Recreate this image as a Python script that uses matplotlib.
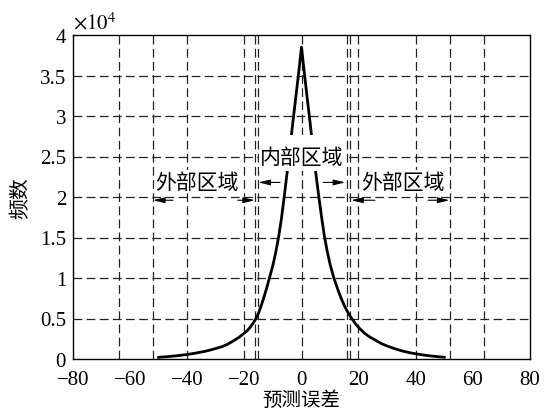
import matplotlib
matplotlib.use("Agg")
import matplotlib.pyplot as plt
from matplotlib.patches import Rectangle

# ---- data (frequency counts) ----
err_left = [-50, -48, -46, -44, -42, -40, -38, -36, -34, -32, -30, -28, -26, -24, -22, -20, -19, -18,
            -17, -16, -15, -14, -13, -12, -11, -10, -9, -8, -7, -6, -5, -4, -3, -2, -1, 0]
freq_left = [210, 260, 320, 390, 470, 560, 670, 800, 930, 1100, 1300, 1500, 1800, 2200, 2650, 3200,
             3500, 3900, 4400, 4950, 5700, 6700, 7800, 9000, 10300, 11600, 13200, 15100, 17400,
             20200, 23100, 26200, 29300, 32300, 35300, 38500]
err_right = [1, 2, 3, 4, 5, 6, 7, 8, 9, 10, 11, 12, 13, 14, 15, 16, 17, 18, 19, 20, 22, 24, 26, 28,
             30, 32, 34, 36, 38, 40, 42, 44, 46, 48, 50]
freq_right = [35300, 32200, 29200, 26000, 23000, 20200, 17600, 15200, 13300, 11700, 10400, 9300,
              8300, 7400, 6600, 5900, 5300, 4800, 4300, 3900, 3200, 2700, 2300, 1900, 1600, 1350,
              1120, 930, 770, 640, 530, 430, 350, 280, 220]

x_ticks = [-80, -60, -40, -20, 0, 20, 40, 60, 80]
y_ticks = [0, 0.5, 1, 1.5, 2, 2.5, 3, 3.5, 4]
vlines = [-64, -52, -40, -20, -16.3, -15.2, 0, 16, 17, 19.8, 40, 52, 64]
hlines = [0.5, 1, 1.5, 2, 2.5, 3, 3.5]

plt.rcParams['mathtext.fontset'] = 'stix'
serif = ['Liberation Serif', 'DejaVu Serif']
cjk = ['Noto Sans CJK SC', 'DejaVu Sans']

fig = plt.figure(figsize=(5.53, 4.10), dpi=100)
ax = fig.add_axes([73 / 553, (410 - 360) / 410, (530 - 73) / 553, (360 - 36) / 410])

x = err_left + err_right
y = [v / 1e4 for v in freq_left + freq_right]

for v in vlines:
    ax.axvline(v, color='#222222', lw=0.9, dashes=(7, 3.5), zorder=1)
for h in hlines:
    ax.axhline(h, color='#222222', lw=0.9, dashes=(7, 3.5), zorder=1)

ax.plot(x, y, color='black', lw=2.0, zorder=2, solid_joinstyle='round')

ax.set_xlim(-80, 80)
ax.set_ylim(0, 4)
ax.set_xticks(x_ticks)
ax.set_xticklabels([("\u2212" + str(-t)) if t < 0 else str(t) for t in x_ticks])
ax.set_yticks(y_ticks)
ax.set_yticklabels(["%g" % t for t in y_ticks])
ax.tick_params(length=0, labelsize=15)
ax.tick_params(axis='x', pad=8)
ax.tick_params(axis='y', pad=5)
for lab in ax.get_xticklabels() + ax.get_yticklabels():
    lab.set_fontfamily(serif)
for s in ax.spines.values():
    s.set_linewidth(1.0)
    s.set_color('black')
    s.set_zorder(5)

ax.set_xlabel("预测误差", fontsize=14, family=cjk, labelpad=0)
ax.set_ylabel("频数", fontsize=15, family=cjk, labelpad=6)

# x10^4 factor
ax.text(0.0, 1.008, r"$\times10^{4}$", transform=ax.transAxes, fontsize=15,
        ha='left', va='bottom')

# inner region label with white box
ax.add_patch(Rectangle((-14.9, 2.32), 30.5, 0.44, facecolor='white', edgecolor='none', zorder=3))
ax.text(0.2, 2.49, "内部区域", fontsize=15, family=cjk, ha='center', va='center', zorder=4)

# outer region labels
ax.text(-36.6, 2.19, "外部区域", fontsize=15, family=cjk, ha='center', va='center', zorder=4,
        bbox=dict(facecolor='white', edgecolor='none', pad=0.5))
ax.text(35.4, 2.19, "外部区域", fontsize=15, family=cjk, ha='center', va='center', zorder=4,
        bbox=dict(facecolor='white', edgecolor='none', pad=0.5))

ap = dict(arrowstyle='-|>,head_length=0.7,head_width=0.17', color='black', lw=0.8,
          shrinkA=0, shrinkB=0)
# outer left arrows
ax.annotate("", xy=(-52, 1.96), xytext=(-45, 1.96), arrowprops=ap, zorder=4)
ax.annotate("", xy=(-16.3, 1.96), xytext=(-22.3, 1.96), arrowprops=ap, zorder=4)
# inner arrows
ax.annotate("", xy=(-15.1, 2.18), xytext=(-7.5, 2.18), arrowprops=ap, zorder=4)
ax.annotate("", xy=(15.3, 2.18), xytext=(7.6, 2.18), arrowprops=ap, zorder=4)
# outer right arrows
ax.annotate("", xy=(17.4, 1.96), xytext=(25.7, 1.96), arrowprops=ap, zorder=4)
ax.annotate("", xy=(51.8, 1.96), xytext=(44.3, 1.96), arrowprops=ap, zorder=4)

fig.savefig("out.png", dpi=100, facecolor='white')
